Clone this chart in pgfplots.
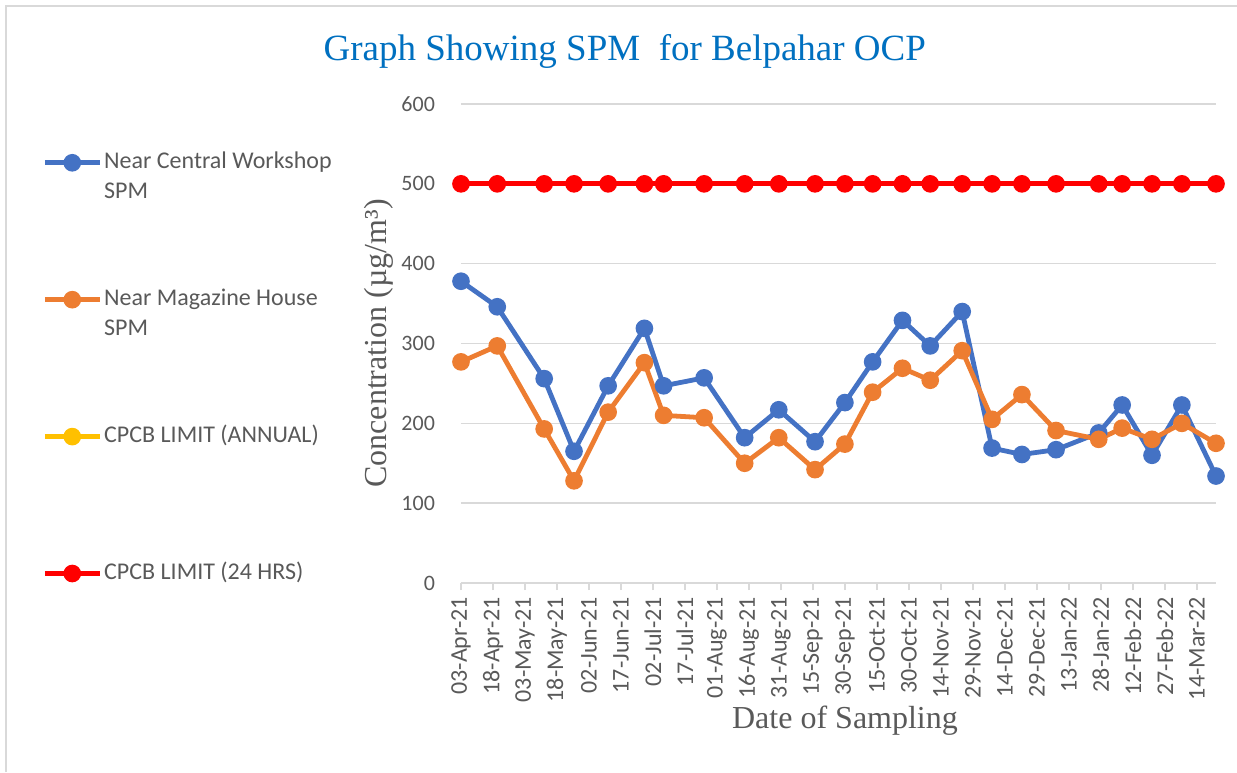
\documentclass[border=0pt]{standalone}
\usepackage{fontspec}
\setmainfont{Liberation Serif}
\newfontfamily\calfont{Carlito}
\usepackage{pgfplots}
\pgfplotsset{compat=1.18}
\usepackage{pgfplotstable}

\definecolor{cblue}{HTML}{4472C4}
\definecolor{corange}{HTML}{ED7D31}
\definecolor{cyellow}{HTML}{FFC000}
\definecolor{cred}{HTML}{FF0000}
\definecolor{txtgray}{HTML}{595959}
\definecolor{gridgray}{HTML}{D9D9D9}
\definecolor{titleblue}{HTML}{0070C0}

% day = days since 03-Apr-21
\pgfplotstableread{
day  cw   mh   lim
0    378  277  500
17   346  297  500
39   256  193  500
53   165  128  500
69   247  214  500
86   319  276  500
95   247  210  500
114  257  207  500
133  182  150  500
149  217  182  500
166  177  142  500
180  226  174  500
193  277  239  500
207  329  269  500
220  297  254  500
235  340  291  500
249  169  205  500
263  161  236  500
279  167  191  500
299  188  180  500
310  223  194  500
324  160  180  500
338  223  200  500
354  134  175  500
}\spmdata

\newcommand{\legtext}[1]{\smash{\parbox[t]{140pt}{\raggedright #1}}}

\begin{document}
\begin{tikzpicture}
\path[use as bounding box] (0,0) rectangle (618.5pt,386pt);
\draw[gridgray, line width=0.8pt] (3pt,0pt) -- (3pt,383pt) -- (618.5pt,383pt);
\begin{axis}[
    at={(230.5pt,94.5pt)}, anchor=south west,
    scale only axis, width=377.5pt, height=239.5pt,
    xmin=0, xmax=354, ymin=0, ymax=600,
    clip=false,
    axis x line*=bottom, axis y line*=left,
    x axis line style={gridgray, line width=0.8pt, -},
    y axis line style={draw=none},
    ymajorgrids, grid style={gridgray, line width=0.8pt},
    ytick={0,100,...,600},
    xtick={0,15,...,345},
    xticklabels={03-Apr-21,18-Apr-21,03-May-21,18-May-21,02-Jun-21,17-Jun-21,02-Jul-21,17-Jul-21,01-Aug-21,16-Aug-21,31-Aug-21,15-Sep-21,30-Sep-21,15-Oct-21,30-Oct-21,14-Nov-21,29-Nov-21,14-Dec-21,29-Dec-21,13-Jan-22,28-Jan-22,12-Feb-22,27-Feb-22,14-Mar-22},
    tick align=outside, major tick length=3.5pt,
    xtick style={gridgray, line width=0.8pt},
    ytick style={draw=none},
    /pgf/number format/assume math mode=true,
    ticklabel style={font=\calfont\fontsize{11}{13}\selectfont, text=txtgray},
    xticklabel style={rotate=90, anchor=east, font=\calfont\fontsize{12}{14}\selectfont},
    yticklabel style={xshift=-6pt},
    title={Graph Showing SPM\ \ for Belpahar OCP},
    title style={font=\fontsize{18.5}{22}\selectfont, text=titleblue, at={(axis description cs:0.217,1.084)}, anchor=center},
    xlabel={Date of Sampling},
    xlabel style={font=\fontsize{16}{19}\selectfont, text=txtgray, at={(axis description cs:0.5086,-0.288)}, anchor=center},
    ylabel={Concentration (µg/m³)},
    ylabel style={font=\fontsize{16}{19}\selectfont, text=txtgray, at={(axis description cs:-0.109,0.5)}, anchor=center},
    every axis plot/.append style={line width=2.4pt, mark=*, mark size=3.2pt},
    legend image code/.code={\draw[mark repeat=2, mark phase=2, #1] plot coordinates {(0pt,0.6ex) (13.75pt,0.6ex) (27.5pt,0.6ex)};},
    legend style={draw=none, fill=none, at={(axis description cs:-0.555,0.8915)}, anchor=north west,
        inner sep=0pt, font=\calfont\fontsize{12}{15}\selectfont, text=txtgray,
        cells={anchor=base west}, nodes={inner sep=1pt}, column sep=0pt, row sep=60pt},
]
\addplot[cblue, mark options={fill=cblue, draw=cblue}] table[x=day, y=cw] {\spmdata};
\addlegendentry{\legtext{Near Central Workshop\\SPM}}
\addplot[corange, mark options={fill=corange, draw=corange}] table[x=day, y=mh] {\spmdata};
\addlegendentry{\legtext{Near Magazine House\\SPM}}
\addlegendimage{cyellow, line width=2.4pt, mark=*, mark size=3.2pt, mark options={fill=cyellow, draw=cyellow}}
\addlegendentry{\legtext{CPCB LIMIT (ANNUAL)}}
\addplot[cred, mark options={fill=cred, draw=cred}] table[x=day, y=lim] {\spmdata};
\addlegendentry{\legtext{CPCB LIMIT (24 HRS)}}
\end{axis}
\end{tikzpicture}
\end{document}
